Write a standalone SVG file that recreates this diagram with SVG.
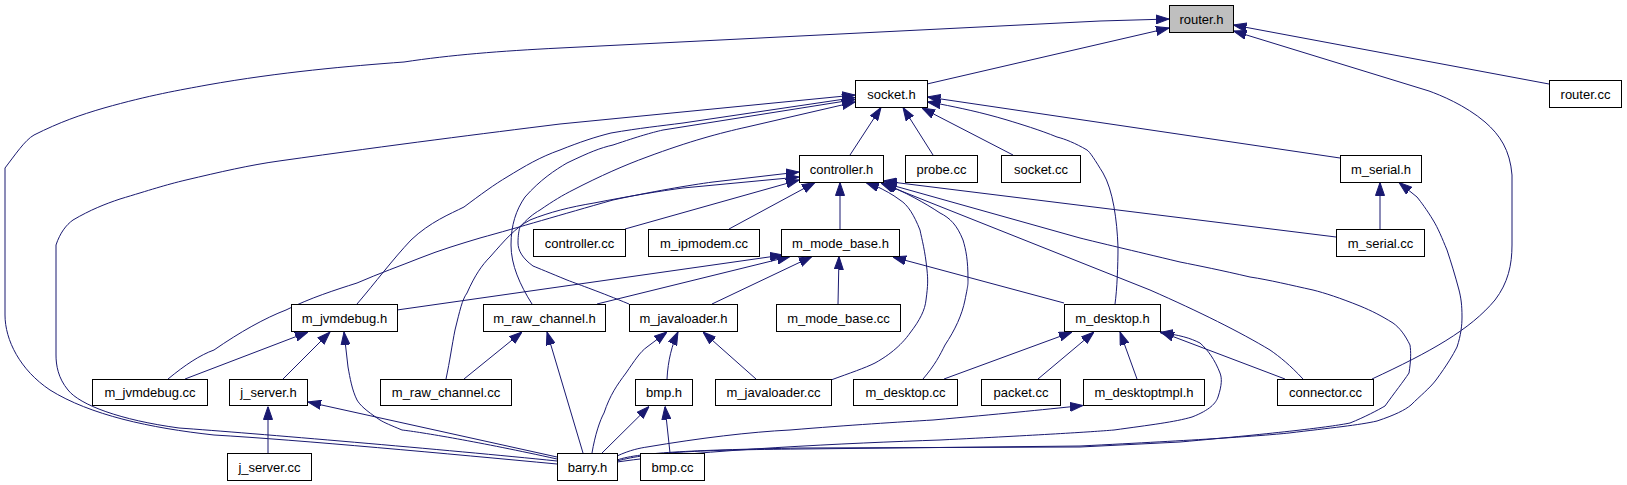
<svg xmlns="http://www.w3.org/2000/svg" width="1627" height="485" viewBox="0 0 1627 485">
<defs>
<marker id="arr" viewBox="0 0 13 10" refX="13" refY="5" markerWidth="13" markerHeight="10" orient="auto" markerUnits="userSpaceOnUse">
<path d="M0,0.5 L13,5 L0,9.5 z" fill="#191970" stroke="#191970" stroke-width="1"/>
</marker>
<style>
.e{fill:none;stroke:#191970;stroke-width:1;marker-end:url(#arr)}
.n rect{fill:#ffffff;stroke:#000000;stroke-width:1}
.n text{font-family:"Liberation Sans",Arial,sans-serif;font-size:13px;fill:#000000;text-anchor:middle}
#n_router_h rect{fill:#bfbfbf}
</style>
</defs>
<rect x="0" y="0" width="1627" height="485" fill="#ffffff"/>
<g id="edges">
<path class="e" d="M927,84 L1169,28"/>
<path class="e" d="M1549,84 L1233.5,25"/>
<path class="e" d="M1372,379 C1430,352 1470,330 1495,300 C1508,283 1512,265 1512,245 L1512,175 C1510,150 1500,135 1485,122 C1465,105 1440,95 1429,91 L1233.5,31"/>
<path class="e" d="M557,464 C450,454 300,440 214,435 C150,428 90,415 50,390 C20,370 5,340 5,315 L5,168 C15,155 25,140 34,135 C60,122 80,115 104,108 C150,95 180,90 207,85 C280,72 350,66 404,62 C450,55 500,51 560,48 L1100,21 L1169,19"/>
<path class="e" d="M557,461 C450,450 250,433 179,428 C120,420 80,405 68,390 C58,378 56,365 56,355 L56,245 C60,233 66,225 73,220 C90,210 105,204 120,199 C150,190 165,185 186,180 C220,172 250,165 279,161 C400,144 480,134 560,124 L855,95"/>
<path class="e" d="M357,304 C375,283 393,259 411,240 C430,222 450,214 464,207 C480,195 495,184 507,177 C525,166 540,157 560,150 C580,142 595,137 611,133 C640,128 660,126 683,123 L855,97.5"/>
<path class="e" d="M532,304 C520,285 511,265 511,245 C511,225 516,210 525,197 C540,180 555,170 567,163 C590,152 600,148 613,145 C640,136 650,133 663,130 L855,99.5"/>
<path class="e" d="M629,304 C600,292 580,285 567,280 C550,273 538,268 533,266 C522,258 518,250 518,243 C518,235 519,230 520,227 C527,219 533,214 540,210 C553,201 563,195 573,190 C600,176 625,165 647,157 C690,141 720,133 747,127 L855,102"/>
<path class="e" d="M850,155 L881,107.5"/>
<path class="e" d="M933,155 L903,107.5"/>
<path class="e" d="M1013,155 L922,108"/>
<path class="e" d="M1340,158 L927.5,97"/>
<path class="e" d="M1115,304 C1117,290 1118,265 1118,247 C1117,220 1113,190 1103,173 C1095,160 1090,152 1087,150 C1075,143 1065,139 1057,137 C1040,130 1020,124 1007,120 C980,112 960,108 940,104 L927.5,102"/>
<path class="e" d="M625,229 L799,180"/>
<path class="e" d="M729,229 L815,182.5"/>
<path class="e" d="M840,229 L840,182.5"/>
<path class="e" d="M168,379 C185,365 200,355 214,350 C240,332 265,318 286,310 C310,298 335,290 357,283 C380,273 400,266 420,258 C440,250 460,244 480,238 C520,227 560,215 613,200 C650,192 690,185 713,182 L799,172"/>
<path class="e" d="M446,379 C450,360 452,345 455,330 C460,310 462,300 467,293 C475,275 482,265 490,257 C505,240 515,228 530,220 C550,212 570,207 594,203 C630,196 660,191 683,188 L799,177"/>
<path class="e" d="M831,380 C850,373 865,368 875,363 C895,352 905,340 910,333 C920,320 925,310 926,300 C928,285 928,280 927,270 C925,250 922,240 920,230 C914,215 908,205 900,200 C892,194 884,190 878,187 L866,182.5"/>
<path class="e" d="M923,379 C935,365 940,355 945,345 C955,330 962,315 965,300 C968,285 968,285 968,280 C968,260 966,250 963,240 C957,225 950,218 940,213 C925,203 905,192 883,183"/>
<path class="e" d="M1336,237 L883.5,181"/>
<path class="e" d="M1303,379 C1290,365 1280,357 1270,350 C1240,332 1200,312 1150,290 L881,183"/>
<path class="e" d="M617,460 C640,452 700,450 800,448 L1080,447 L1180,442 C1280,433 1330,427 1350,423 C1365,417 1378,410 1385,406 C1395,392 1403,382 1409,373 C1411,360 1411,352 1410,345 C1405,335 1400,328 1393,323 C1380,315 1372,311 1360,306 C1340,298 1325,293 1313,290 C1290,285 1270,280 1250,277 C1220,270 1200,266 1180,262 C1130,250 1100,243 1080,238 L884,183"/>
<path class="e" d="M617,461 C650,452 700,450 800,449 L1080,446 C1200,440 1260,436 1289,433 C1330,428 1360,425 1377,421 C1395,415 1405,410 1411,405 C1420,396 1430,388 1436,380 C1447,365 1453,355 1457,347 C1461,335 1462,325 1462,317 C1462,305 1461,298 1459,290 C1455,275 1451,262 1447,250 C1442,238 1438,228 1433,220 C1427,210 1421,202 1417,197 L1399,182.5"/>
<path class="e" d="M1380,229 L1380,182.5"/>
<path class="e" d="M397,310 L783,255"/>
<path class="e" d="M597,304 L790,256.5"/>
<path class="e" d="M712,304 L812,256.5"/>
<path class="e" d="M838,304 L839,256.5"/>
<path class="e" d="M1064,303 L893,257"/>
<path class="e" d="M185,379 L308,332"/>
<path class="e" d="M283,379 L330,332"/>
<path class="e" d="M557,459 C480,442 420,432 402,430 C390,425 385,423 380,420 C365,410 360,405 357,400 C352,390 350,378 348,367 L344,332"/>
<path class="e" d="M464,379 L522,332"/>
<path class="e" d="M583,453 L547,332"/>
<path class="e" d="M592,453 C595,435 600,420 604,413 C610,395 617,385 626,373 C635,360 640,352 647,347 L667,332"/>
<path class="e" d="M667,379 C668,360 672,345 678,332"/>
<path class="e" d="M756,379 L703,332"/>
<path class="e" d="M602,453 L649,406.5"/>
<path class="e" d="M670,453 L665,406.5"/>
<path class="e" d="M268,453 L268,406.5"/>
<path class="e" d="M557,457 L308,402"/>
<path class="e" d="M944,379 L1072,332"/>
<path class="e" d="M1038,379 L1094,332"/>
<path class="e" d="M1137,379 L1120,332"/>
<path class="e" d="M1285,379 L1161,332"/>
<path class="e" d="M617,462 C700,450 850,443 940,440 C1040,435 1090,432 1114,430 C1150,425 1175,422 1192,417 C1210,410 1216,403 1218,397 C1222,385 1222,378 1220,373 C1215,360 1208,350 1200,343 C1190,338 1180,335 1160,332.5"/>
<path class="e" d="M617,456 C630,450 640,448 647,447 C700,438 750,432 790,430 C850,425 900,422 933,420 C1000,414 1040,410 1083,405.5"/>
</g>
<g id="n_router_h" class="n"><rect x="1169.5" y="5.5" width="64" height="27"/><text x="1201.5" y="23.5">router.h</text></g>
<g id="n_router_cc" class="n"><rect x="1549.5" y="80.5" width="72" height="27"/><text x="1585.5" y="98.5">router.cc</text></g>
<g id="n_socket_h" class="n"><rect x="855.5" y="80.5" width="72" height="27"/><text x="891.5" y="98.5">socket.h</text></g>
<g id="n_controller_h" class="n"><rect x="799.5" y="155.5" width="84" height="27"/><text x="841.5" y="173.5">controller.h</text></g>
<g id="n_probe_cc" class="n"><rect x="905.5" y="155.5" width="72" height="27"/><text x="941.5" y="173.5">probe.cc</text></g>
<g id="n_socket_cc" class="n"><rect x="1001.5" y="155.5" width="79" height="27"/><text x="1041" y="173.5">socket.cc</text></g>
<g id="n_m_serial_h" class="n"><rect x="1340.5" y="155.5" width="81" height="27"/><text x="1381" y="173.5">m_serial.h</text></g>
<g id="n_controller_cc" class="n"><rect x="533.5" y="229.5" width="92" height="27"/><text x="579.5" y="247.5">controller.cc</text></g>
<g id="n_m_ipmodem_cc" class="n"><rect x="648.5" y="229.5" width="111" height="27"/><text x="704" y="247.5">m_ipmodem.cc</text></g>
<g id="n_m_mode_base_h" class="n"><rect x="781.5" y="229.5" width="118" height="27"/><text x="840.5" y="247.5">m_mode_base.h</text></g>
<g id="n_m_serial_cc" class="n"><rect x="1336.5" y="229.5" width="88" height="27"/><text x="1380.5" y="247.5">m_serial.cc</text></g>
<g id="n_m_jvmdebug_h" class="n"><rect x="291.5" y="304.5" width="106" height="27"/><text x="344.5" y="322.5">m_jvmdebug.h</text></g>
<g id="n_m_raw_channel_h" class="n"><rect x="483.5" y="304.5" width="122" height="27"/><text x="544.5" y="322.5">m_raw_channel.h</text></g>
<g id="n_m_javaloader_h" class="n"><rect x="629.5" y="304.5" width="108" height="27"/><text x="683.5" y="322.5">m_javaloader.h</text></g>
<g id="n_m_mode_base_cc" class="n"><rect x="776.5" y="304.5" width="124" height="27"/><text x="838.5" y="322.5">m_mode_base.cc</text></g>
<g id="n_m_desktop_h" class="n"><rect x="1064.5" y="304.5" width="96" height="27"/><text x="1112.5" y="322.5">m_desktop.h</text></g>
<g id="n_m_jvmdebug_cc" class="n"><rect x="92.5" y="379.5" width="115" height="26"/><text x="150" y="397">m_jvmdebug.cc</text></g>
<g id="n_j_server_h" class="n"><rect x="229.5" y="379.5" width="78" height="26"/><text x="268.5" y="397">j_server.h</text></g>
<g id="n_m_raw_channel_cc" class="n"><rect x="380.5" y="379.5" width="131" height="26"/><text x="446" y="397">m_raw_channel.cc</text></g>
<g id="n_bmp_h" class="n"><rect x="635.5" y="379.5" width="57" height="26"/><text x="664" y="397">bmp.h</text></g>
<g id="n_m_javaloader_cc" class="n"><rect x="715.5" y="379.5" width="116" height="26"/><text x="773.5" y="397">m_javaloader.cc</text></g>
<g id="n_m_desktop_cc" class="n"><rect x="853.5" y="379.5" width="104" height="26"/><text x="905.5" y="397">m_desktop.cc</text></g>
<g id="n_packet_cc" class="n"><rect x="981.5" y="379.5" width="79" height="26"/><text x="1021" y="397">packet.cc</text></g>
<g id="n_m_desktoptmpl_h" class="n"><rect x="1083.5" y="379.5" width="121" height="26"/><text x="1144" y="397">m_desktoptmpl.h</text></g>
<g id="n_connector_cc" class="n"><rect x="1277.5" y="379.5" width="96" height="26"/><text x="1325.5" y="397">connector.cc</text></g>
<g id="n_j_server_cc" class="n"><rect x="227.5" y="453.5" width="84" height="27"/><text x="269.5" y="471.5">j_server.cc</text></g>
<g id="n_barry_h" class="n"><rect x="557.5" y="453.5" width="60" height="27"/><text x="587.5" y="471.5">barry.h</text></g>
<g id="n_bmp_cc" class="n"><rect x="640.5" y="453.5" width="64" height="27"/><text x="672.5" y="471.5">bmp.cc</text></g>
</svg>
